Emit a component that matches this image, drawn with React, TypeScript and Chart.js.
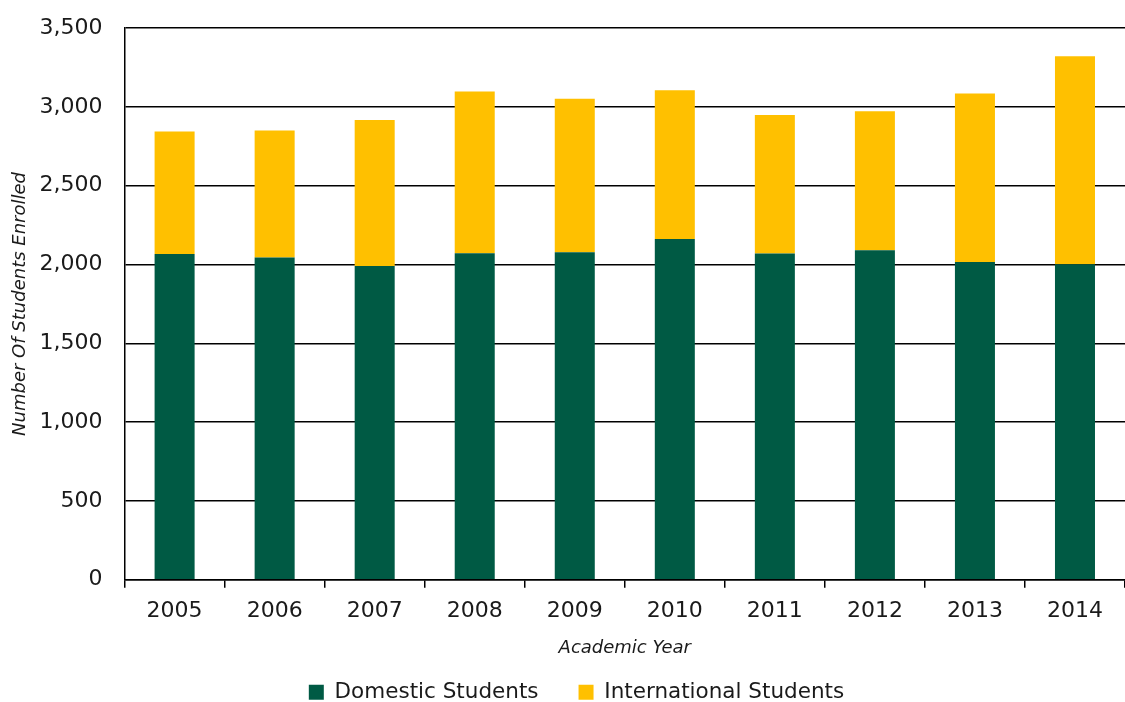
import React, { useEffect, useRef } from "react";
import { Chart, registerables } from "chart.js";

Chart.register(...registerables);

const years = ["2005", "2006", "2007", "2008", "2009", "2010", "2011", "2012", "2013", "2014"];
const domestic = [2067, 2044, 1991, 2072, 2078, 2162, 2070, 2091, 2017, 2002];
const international = [777, 806, 927, 1026, 975, 944, 879, 882, 1068, 1320];
const yTicks = [0, 500, 1000, 1500, 2000, 2500, 3000, 3500];

const FONT = "'DejaVu Sans', sans-serif";
const TEXT = "#1a1a1a";

const legendShift = {
  id: "legendShift",
  afterLayout(chart: any) {
    const l = chart.legend;
    if (l) {
      l.left += 14;
      l.right += 14;
    }
  },
};

export default function App() {
  const ref = useRef<HTMLCanvasElement | null>(null);
  useEffect(() => {
    if (!ref.current) return;
    const chart = new Chart(ref.current, {
      type: "bar",
      data: {
        labels: years,
        datasets: [
          {
            label: "Domestic Students",
            data: domestic,
            backgroundColor: "#005a44",
            barPercentage: 0.4,
            categoryPercentage: 1,
          },
          {
            label: "International Students",
            data: international,
            backgroundColor: "#ffc000",
            barPercentage: 0.4,
            categoryPercentage: 1,
          },
        ],
      },
      plugins: [legendShift],
      options: {
        responsive: false,
        animation: false,
        layout: { padding: { left: 0, right: 0, top: 0, bottom: 0 } },
        plugins: {
          tooltip: { enabled: false },
          legend: {
            position: "bottom",
            labels: {
              font: { family: FONT, size: 21.5 },
              color: TEXT,
              boxWidth: 15,
              boxHeight: 15,
              padding: 40,
            },
          },
        },
        scales: {
          x: {
            stacked: true,
            offset: true,
            grid: {
              display: true,
              drawOnChartArea: false,
              offset: true,
              tickLength: 8,
              color: "#000",
              lineWidth: 1.5,
            },
            border: { display: true, color: "#000", width: 1.5 },
            ticks: {
              font: { family: FONT, size: 22 },
              color: TEXT,
              padding: 10.5,
            },
            title: {
              display: true,
              text: "Academic Year",
              font: { family: FONT, size: 18, style: "italic" },
              color: TEXT,
              padding: { top: 2.3, bottom: -17.5 },
            },
          },
          y: {
            stacked: true,
            min: 0,
            max: 3500,
            afterBuildTicks: (axis: any) => {
              axis.ticks = yTicks.map((v) => ({ value: v }));
            },
            grid: {
              color: "#000",
              lineWidth: 1.5,
              drawTicks: false,
              tickLength: 0,
            },
            border: { display: true, color: "#000", width: 1.5 },
            ticks: {
              font: { family: FONT, size: 22 },
              color: TEXT,
              padding: 22,
              callback: (v: any) => Number(v).toLocaleString("en-US"),
            },
            title: {
              display: true,
              text: "Number Of Students Enrolled",
              font: { family: FONT, size: 18, style: "italic" },
              color: TEXT,
              padding: { top: 10, bottom: -14 },
            },
          },
        },
      },
    });
    return () => chart.destroy();
  }, []);
  return (
    <div
      style={{
        position: "absolute",
        left: 0,
        top: 0,
        width: 1125,
        height: 702,
        overflow: "hidden",
        background: "#fff",
      }}
    >
      <canvas
        ref={ref}
        width={1125}
        height={720}
        style={{ position: "absolute", left: 0, top: -7, width: 1125, height: 720, display: "block" }}
      />
    </div>
  );
}
